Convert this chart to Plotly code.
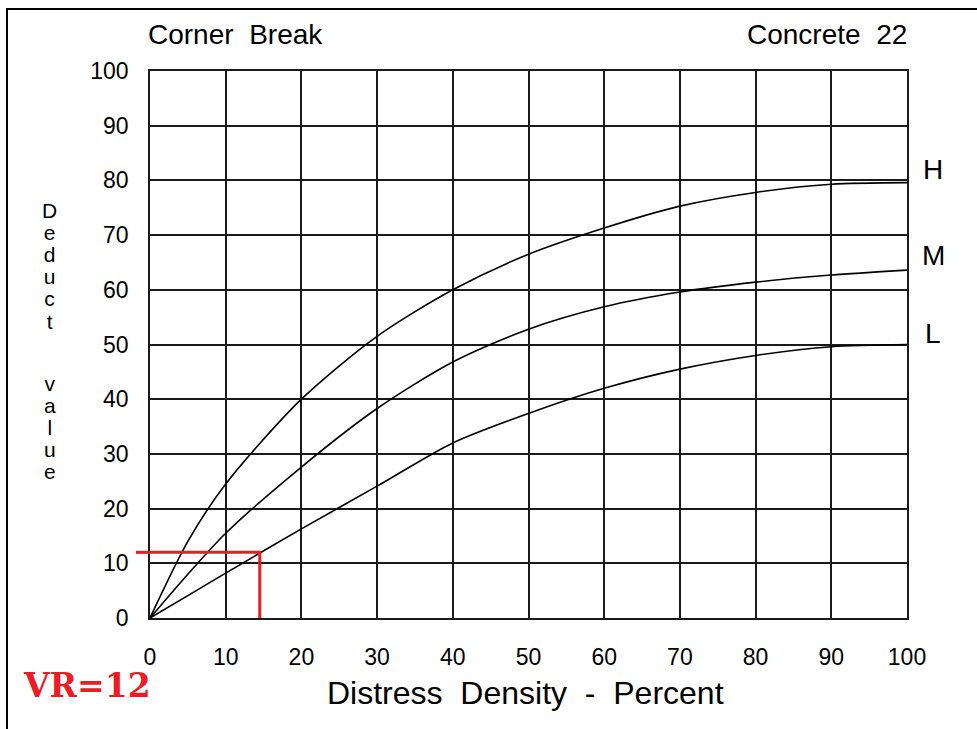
import plotly.graph_objects as go

# ---- data ----
density = [0, 5, 10, 20, 30, 40, 50, 60, 70, 80, 90, 100]
high = [0, 14.0, 24.5, 40.0, 51.5, 60.0, 66.5, 71.3, 75.3, 77.8, 79.3, 79.6]
medium = [0, 8.0, 15.5, 27.6, 38.3, 46.8, 52.8, 56.9, 59.6, 61.4, 62.7, 63.6]
low = [0, 4.1, 8.2, 16.3, 24.1, 32.0, 37.4, 42.0, 45.5, 48.0, 49.6, 50.0]
severity_labels = ["H", "M", "L"]
label_values = [82.0, 66.2, 52.1]
x_ticks = [0, 10, 20, 30, 40, 50, 60, 70, 80, 90, 100]
y_ticks = [0, 10, 20, 30, 40, 50, 60, 70, 80, 90, 100]
vr_density = 14.5
vr_value = 12

FONT = "Arial, Liberation Sans, sans-serif"
RED = "#ec1c24"

fig = go.Figure()
for vals in (high, medium, low):
    fig.add_trace(go.Scatter(
        x=density, y=vals, mode="lines",
        line=dict(color="black", width=1.6, shape="spline", smoothing=0.8),
        hoverinfo="skip", showlegend=False))

fig.add_trace(go.Scatter(
    x=[vr_density, vr_density, 0], y=[0, vr_value, vr_value], mode="lines",
    line=dict(color=RED, width=3), showlegend=False, hoverinfo="skip"))

axis_common = dict(
    range=[0, 100], showgrid=True, gridcolor="#1a1a1a", gridwidth=1.6,
    showline=True, linecolor="#1a1a1a", linewidth=1.6, mirror=True,
    zeroline=False, ticks="", tickfont=dict(family=FONT, size=23, color="black"),
    fixedrange=True)

fig.update_xaxes(**axis_common, tickvals=x_ticks, ticktext=[str(v) for v in x_ticks],
                 ticklabelstandoff=18)
fig.update_yaxes(**axis_common, tickvals=y_ticks, ticktext=[str(v) for v in y_ticks],
                 ticklabelstandoff=15)

W, H = 977, 729
L_, R_, T_, B_ = 150, 70, 71, 111
pw, ph = W - L_ - R_, H - T_ - B_


def px(x):
    return (x - L_) / pw


def py(y):
    return (H - B_ - y) / ph


def stacked(word):
    return "<br>".join('<span style="font-size:21px">%s</span>' % c for c in word)


annotations = [
    dict(text="Corner  Break", x=px(146), y=py(35), xanchor="left", yanchor="middle",
         font=dict(family=FONT, size=28, color="black")),
    dict(text="Concrete  22", x=px(909), y=py(35), xanchor="right", yanchor="middle",
         font=dict(family=FONT, size=28, color="black")),
    dict(text="Distress  Density  -  Percent", x=px(525), y=py(693), xanchor="center",
         yanchor="middle", font=dict(family=FONT, size=32, color="black")),
    dict(text="<b>VR=" + str(vr_value) + "</b>", x=px(21), y=py(685), xanchor="left",
         yanchor="middle", font=dict(family="DejaVu Serif, serif", size=33, color=RED)),
    dict(text=stacked("Deduct"), x=px(50), y=py(266), xanchor="center",
         yanchor="middle", font=dict(family=FONT, size=17, color="black")),
    dict(text=stacked("value"), x=px(50), y=py(427), xanchor="center",
         yanchor="middle", font=dict(family=FONT, size=17, color="black")),
]
for lab, v in zip(severity_labels, label_values):
    annotations.append(dict(text=lab, x=px(933), y=v / 100, xanchor="center",
                            yanchor="middle",
                            font=dict(family=FONT, size=28, color="black")))

for a in annotations:
    a["xref"] = "paper"
    a["yref"] = "paper"
    a["showarrow"] = False

shapes = [
    # red stub extending left of the axis
    dict(type="line", xref="paper", yref="paper", x0=px(136), x1=0,
         y0=vr_value / 100, y1=vr_value / 100, line=dict(color=RED, width=3)),
    # frame of the picture
    dict(type="line", xref="paper", yref="paper", x0=px(6), x1=px(980),
         y0=py(9), y1=py(9), line=dict(color="black", width=2)),
    dict(type="line", xref="paper", yref="paper", x0=px(7), x1=px(7),
         y0=py(8), y1=py(735), line=dict(color="black", width=2)),
]

fig.update_layout(
    width=W, height=H, margin=dict(l=L_, r=R_, t=T_, b=B_, autoexpand=False),
    paper_bgcolor="white", plot_bgcolor="white",
    annotations=annotations, shapes=shapes, showlegend=False)

fig.write_html("out.html", config={"displayModeBar": False})
